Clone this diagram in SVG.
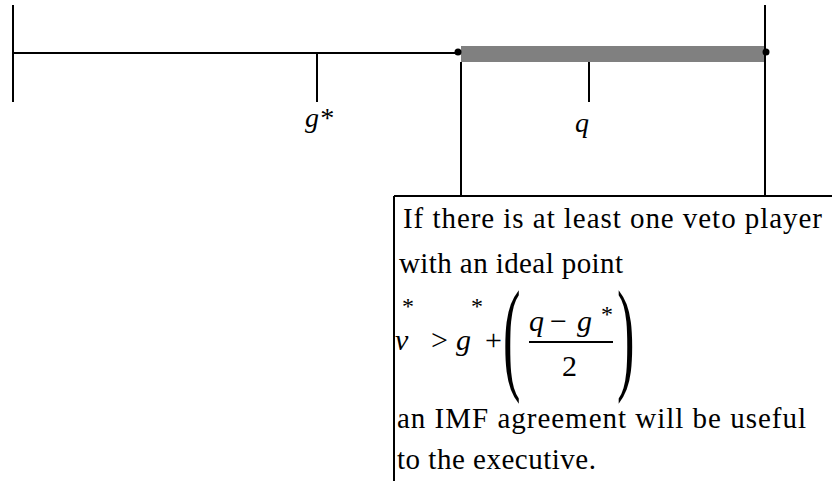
<svg xmlns="http://www.w3.org/2000/svg" width="832" height="481" viewBox="0 0 832 481">
<style>
.ln{stroke:#000;stroke-width:2;fill:none}
text{font-family:'Liberation Serif', 'Times New Roman', Times, serif;fill:#000}
.it{font-style:italic}
.tx{font-size:29px}
.sup{font-size:24px}
</style>
<rect width="832" height="481" fill="#fff"/>
<g id="axis">
<line class="ln" x1="13" y1="5" x2="13" y2="102"/>
<line class="ln" x1="13" y1="53" x2="460" y2="53"/>
<rect x="461" y="46" width="304" height="16" fill="#808080"/>
<circle cx="458" cy="52" r="3.5" fill="#000"/>
<circle cx="766" cy="52" r="3.5" fill="#000"/>
</g>
<g id="node-gstar">
<line class="ln" x1="317" y1="53" x2="317" y2="102"/>
<text class="it" x="305" y="127" font-size="28">g*</text>
</g>
<g id="node-q">
<line class="ln" x1="589" y1="62" x2="589" y2="102"/>
<text class="it" x="575" y="132" font-size="28">q</text>
</g>
<g id="connectors">
<line class="ln" x1="461" y1="62" x2="461" y2="197"/>
<line class="ln" x1="765" y1="5" x2="765" y2="197"/>
</g>
<g id="node-box">
<line class="ln" x1="394" y1="196" x2="832" y2="196"/>
<line class="ln" x1="394" y1="196" x2="394" y2="481"/>
<text class="tx" x="403" y="228" textLength="419" lengthAdjust="spacing">If there is at least one veto player</text>
<text class="tx" x="399" y="273" textLength="224" lengthAdjust="spacing">with an ideal point</text>
<g id="formula">
<text class="it" x="395" y="350" font-size="30">v</text>
<text class="sup" x="402" y="314">*</text>
<text x="431" y="350" font-size="30">&gt;</text>
<text class="it" x="456" y="350" font-size="30">g</text>
<text class="sup" x="471" y="314">*</text>
<text x="485" y="350" font-size="30">+</text>
<text transform="translate(503,377) scale(0.42,1)" font-size="125">(</text>
<text class="it" x="529" y="331" font-size="30">q</text>
<text x="550" y="331" font-size="30">−</text>
<text class="it" x="577" y="331" font-size="30">g</text>
<text class="sup" x="601" y="322">*</text>
<line x1="529" y1="342" x2="613" y2="342" stroke="#000" stroke-width="2"/>
<text x="562" y="376" font-size="30">2</text>
<text transform="translate(617,377) scale(0.42,1)" font-size="125">)</text>
</g>
<text class="tx" x="397" y="428" textLength="409" lengthAdjust="spacing">an IMF agreement will be useful</text>
<text class="tx" x="397" y="469" textLength="199" lengthAdjust="spacing">to the executive.</text>
</g>
</svg>
